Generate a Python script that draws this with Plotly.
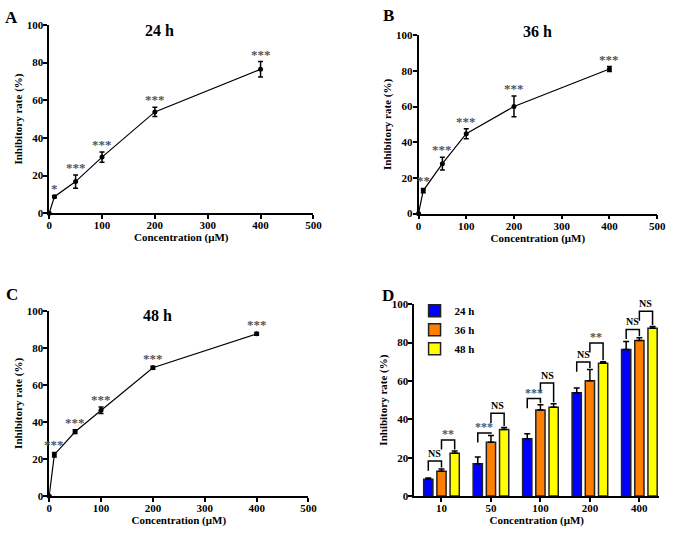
import plotly.graph_objects as go

# ---------------- data ----------------
conc = [0, 10, 50, 100, 200, 400]
rate_24 = [0, 8.8, 16.8, 29.8, 53.8, 76.4]
err_24 = [0, 0.6, 3.5, 2.7, 2.5, 4.1]
rate_36 = [0, 12.9, 28.0, 44.8, 60.1, 81.1]
err_36 = [0, 1.2, 3.6, 2.8, 5.8, 1.4]
rate_48 = [0, 22.3, 34.7, 46.3, 69.2, 87.5]
err_48 = [0, 1.2, 1.0, 1.8, 0.8, 0.8]
sig_24 = ["", "*", "***", "***", "***", "***"]
sig_36 = ["", "**", "***", "***", "***", "***"]
sig_48 = ["", "***", "***", "***", "***", "***"]

bar_categories = ["10", "50", "100", "200", "400"]
series_names = ["24 h", "36 h", "48 h"]
bracket_label_a = ["NS", "***", "***", "NS", "NS"]   # 24 h vs 36 h
bracket_label_b = ["**", "NS", "NS", "**", "NS"]     # 36 h vs 48 h
bracket_level_a = [18.2, 32.9, 50.8, 69.8, 86.8]
bracket_level_b = [29.2, 43.1, 58.9, 79.8, 96.3]

# ---------------- style ----------------
W, H = 677, 534
FONT = "Liberation Serif, Times New Roman, serif"
bar_colors = ["#0000FF", "#FF8000", "#FFFF00"]
BARGAP = 0.2
BARGROUPGAP = 0.3
star_color = "#555555"

def fx(px):
    return px / W

def fy(py):
    return 1 - py / H

fig = go.Figure()

# ---------------- line panels A, B, C ----------------
line_panels = [
    ("x", "y", rate_24, err_24, sig_24),
    ("x2", "y2", rate_36, err_36, sig_36),
    ("x3", "y3", rate_48, err_48, sig_48),
]
annotations = []
for xa, ya, rate, err, sig in line_panels:
    fig.add_trace(go.Scatter(
        x=conc, y=rate, xaxis=xa, yaxis=ya, mode="lines+markers",
        line=dict(color="black", width=1.2),
        marker=dict(color="black", size=5),
        error_y=dict(type="data", array=err, visible=True, color="black",
                     thickness=1.5, width=2.5),
        cliponaxis=False, showlegend=False, hoverinfo="x+y"))
    for c, r, e, s in zip(conc, rate, err, sig):
        if s:
            annotations.append(dict(
                x=c, y=r + e, xref=xa, yref=ya, text="<b>%s</b>" % s,
                showarrow=False, yanchor="bottom", xanchor="center", yshift=-2,
                font=dict(family=FONT, size=13, color=star_color)))

# ---------------- bar panel D ----------------
bar_vals = [rate_24[1:], rate_36[1:], rate_48[1:]]
bar_errs = [err_24[1:], err_36[1:], err_48[1:]]
idx = list(range(len(bar_categories)))
for name, vals, errs, col in zip(series_names, bar_vals, bar_errs, bar_colors):
    fig.add_trace(go.Bar(
        x=idx, y=vals, name=name, xaxis="x4", yaxis="y4",
        marker=dict(color=col, line=dict(color="#222222", width=1.5)),
        error_y=dict(type="data", symmetric=False, array=errs,
                     arrayminus=[0] * len(errs), visible=True,
                     color="black", thickness=1.5, width=3)))

slot = (1 - BARGAP) / 3
tops = [[v + e for v, e in zip(vals, errs)] for vals, errs in zip(bar_vals, bar_errs)]
for i in idx:
    for (a, b, lev, lab) in [(0, 1, bracket_level_a[i], bracket_label_a[i]),
                             (1, 2, bracket_level_b[i], bracket_label_b[i])]:
        xl = i + (a - 1) * slot
        xr = i + (b - 1) * slot
        yl = max(lev - 5, tops[a][i] + 0.8)
        yr = tops[b][i] + 0.8
        fig.add_trace(go.Scatter(
            x=[xl, xl, xr, xr], y=[yl, lev, lev, yr], xaxis="x4", yaxis="y4",
            mode="lines", line=dict(color="black", width=1.5),
            showlegend=False, hoverinfo="skip", cliponaxis=False))
        is_ns = lab == "NS"
        annotations.append(dict(
            x=(xl + xr) / 2, y=lev, xref="x4", yref="y4", text="<b>%s</b>" % lab,
            showarrow=False, yanchor="bottom", xanchor="center",
            yshift=0 if is_ns else -3,
            font=dict(family=FONT, size=10 if is_ns else 12,
                      color="black" if is_ns else star_color)))

# ---------------- panel titles / letters ----------------
for txt, cx, cy in [("24 h", 159, 25), ("36 h", 544, 26), ("48 h", 157, 317)]:
    annotations.append(dict(x=fx(cx), y=fy(cy), xref="paper", yref="paper",
                            text="<b>%s</b>" % txt, showarrow=False,
                            xanchor="center", yanchor="middle",
                            font=dict(family=FONT, size=16, color="black")))
for txt, cx, cy in [("A", 9, 12), ("B", 392, 10), ("C", 9.5, 295), ("D", 391.5, 296)]:
    annotations.append(dict(x=fx(cx), y=fy(cy), xref="paper", yref="paper",
                            text="<b>%s</b>" % txt, showarrow=False,
                            xanchor="center", yanchor="middle",
                            font=dict(family=FONT, size=17, color="black")))

tickfont = dict(family=FONT, size=11, color="black", weight="bold")
titlefont = dict(family=FONT, size=11, color="black")

def xaxis_line(domain, anchor):
    return dict(domain=domain, anchor=anchor, range=[0, 500],
                tickvals=[0, 100, 200, 300, 400, 500],
                showline=True, linecolor="black", linewidth=1.6,
                ticks="outside", ticklen=4, tickwidth=1.5, tickcolor="black",
                showgrid=False, zeroline=False, tickfont=tickfont,
                ticklabelstandoff=-3,
                title=dict(text="<b>Concentration (μM)</b>", font=titlefont, standoff=1))

def yaxis(domain, anchor):
    return dict(domain=domain, anchor=anchor, range=[0, 100],
                tickvals=[0, 20, 40, 60, 80, 100],
                showline=True, linecolor="black", linewidth=1.6,
                ticks="outside", ticklen=4, tickwidth=1.5, tickcolor="black",
                showgrid=False, zeroline=False, tickfont=tickfont,
                ticklabelstandoff=-2,
                title=dict(text="<b>Inhibitory rate (%)</b>", font=titlefont, standoff=2))

fig.update_layout(
    width=W, height=H, margin=dict(l=0, r=0, t=0, b=0),
    paper_bgcolor="white", plot_bgcolor="white",
    barmode="group", bargap=BARGAP, bargroupgap=BARGROUPGAP,
    xaxis=xaxis_line([fx(47), fx(316)], "y"),
    yaxis=yaxis([fy(212), fy(19.3)], "x"),
    xaxis2=xaxis_line([fx(423), fx(666)], "y2"),
    yaxis2=yaxis([fy(212.3), fy(30)], "x2"),
    xaxis3=xaxis_line([fx(47), fx(311)], "y3"),
    yaxis3=yaxis([fy(501.3), fy(311.7)], "x3"),
    xaxis4=dict(domain=[fx(418.7), fx(668)], anchor="y4", range=[-0.55, 4.40],
                tickvals=idx, ticktext=bar_categories,
                showline=True, linecolor="black", linewidth=1.6,
                ticks="outside", ticklen=4, tickwidth=1.5, tickcolor="black",
                showgrid=False, zeroline=False, tickfont=tickfont,
                ticklabelstandoff=-3,
                title=dict(text="<b>Concentration (μM)</b>", font=titlefont, standoff=1)),
    yaxis4=yaxis([fy(501.3), fy(305)], "x4"),
    legend=dict(x=fx(419), y=fy(297), xanchor="left", yanchor="top",
                font=dict(family=FONT, size=11, color="black", weight="bold"),
                bgcolor="rgba(0,0,0,0)", itemwidth=30, tracegroupgap=0),
    annotations=annotations,
    font=dict(family=FONT, color="black"),
)

fig.write_html("out.html", config={"displayModeBar": False},
               post_script="document.body.style.margin='0px';")
